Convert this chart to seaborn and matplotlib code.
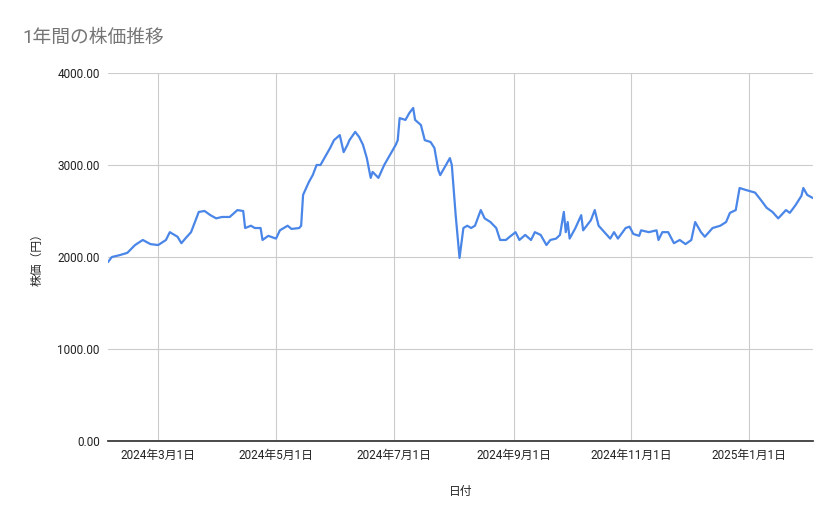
import matplotlib
matplotlib.use("Agg")
import matplotlib.pyplot as plt
import seaborn as sns
import pandas as pd

dates = ["2024-02-04","2024-02-06","2024-02-10","2024-02-14","2024-02-18","2024-02-22","2024-02-26","2024-03-01",
"2024-03-05","2024-03-07","2024-03-11","2024-03-13","2024-03-15","2024-03-18","2024-03-22","2024-03-25","2024-03-28",
"2024-03-31","2024-04-03","2024-04-07","2024-04-11","2024-04-14","2024-04-15","2024-04-18","2024-04-20","2024-04-23",
"2024-04-24","2024-04-27","2024-05-01","2024-05-03","2024-05-07","2024-05-09","2024-05-13","2024-05-14","2024-05-15",
"2024-05-18","2024-05-20","2024-05-22","2024-05-24","2024-05-27","2024-05-29","2024-05-31","2024-06-03","2024-06-05",
"2024-06-07","2024-06-08","2024-06-11","2024-06-13","2024-06-15","2024-06-17","2024-06-19","2024-06-20","2024-06-23",
"2024-06-26","2024-06-29","2024-07-02","2024-07-03","2024-07-04","2024-07-07","2024-07-09","2024-07-11","2024-07-12",
"2024-07-15","2024-07-17","2024-07-20","2024-07-22","2024-07-24","2024-07-25","2024-07-28","2024-07-30","2024-07-31",
"2024-08-02","2024-08-04","2024-08-06","2024-08-08","2024-08-10","2024-08-12","2024-08-15","2024-08-17","2024-08-20",
"2024-08-23","2024-08-25","2024-08-28","2024-08-30","2024-09-02","2024-09-04","2024-09-07","2024-09-10","2024-09-12",
"2024-09-15","2024-09-18","2024-09-20","2024-09-23","2024-09-25","2024-09-27","2024-09-28","2024-09-29","2024-09-30",
"2024-10-03","2024-10-06","2024-10-07","2024-10-11","2024-10-13","2024-10-15","2024-10-18","2024-10-21","2024-10-23",
"2024-10-25","2024-10-29","2024-10-31","2024-11-02","2024-11-05","2024-11-06","2024-11-10","2024-11-14","2024-11-15",
"2024-11-17","2024-11-20","2024-11-23","2024-11-26","2024-11-29","2024-12-02","2024-12-04","2024-12-07","2024-12-09",
"2024-12-13","2024-12-17","2024-12-20","2024-12-22","2024-12-25","2024-12-27","2024-12-30","2025-01-04","2025-01-07",
"2025-01-10","2025-01-13","2025-01-16","2025-01-20","2025-01-22","2025-01-25","2025-01-28","2025-01-29","2025-01-31",
"2025-02-03"]
prices = [1945,2000,2020,2045,2130,2185,2140,2130,
2185,2270,2220,2150,2200,2270,2490,2500,2455,
2420,2435,2435,2510,2500,2315,2340,2315,2315,
2185,2230,2200,2290,2340,2305,2315,2340,2675,
2815,2890,3000,3000,3110,3185,3270,3325,3140,
3220,3270,3360,3305,3220,3075,2860,2925,2860,
3000,3110,3220,3270,3510,3490,3565,3620,3490,
3435,3270,3250,3185,2945,2890,3000,3075,3000,
2455,1990,2315,2340,2315,2340,2510,2420,2380,
2315,2185,2185,2220,2270,2185,2240,2185,2270,
2240,2130,2185,2200,2240,2490,2270,2380,2200,
2315,2455,2290,2400,2510,2340,2270,2200,2270,
2200,2315,2330,2250,2230,2290,2270,2290,2185,
2270,2270,2150,2185,2140,2185,2380,2270,2220,
2315,2340,2380,2480,2510,2750,2730,2700,2620,
2535,2490,2420,2510,2480,2565,2665,2750,2675,
2640]
tick_dates = ["2024-03-01","2024-05-01","2024-07-01","2024-09-01","2024-11-01","2025-01-01"]
tick_labels = ["2024年3月1日","2024年5月1日","2024年7月1日","2024年9月1日","2024年11月1日","2025年1月1日"]
yticks = [0, 1000, 2000, 3000, 4000]

sns.set_theme(style="white")
plt.rcParams['font.family'] = ['Roboto', 'Noto Sans CJK JP', 'DejaVu Sans']

df = pd.DataFrame({"date": pd.to_datetime(dates), "price": prices})
fig = plt.figure(figsize=(8.39, 5.19), dpi=100)
ax = fig.add_axes([108/839, 78/519, 705/839, 368/519])
sns.lineplot(data=df, x="date", y="price", ax=ax, color="#4a86e8", linewidth=1.6)
ax.set_xlim(pd.Timestamp("2024-02-04"), pd.Timestamp("2025-02-03"))
ax.set_ylim(0, 4000)
ax.set_yticks(yticks)
ax.set_yticklabels([f"{v:.2f}" for v in yticks], fontsize=8.5, color="#222222")
ax.set_xticks(pd.to_datetime(tick_dates))
ax.set_xticklabels(tick_labels, fontsize=8.5, color="#222222")
ax.grid(True, color="#cccccc", linewidth=0.8)
ax.tick_params(length=0, pad=6)
for s in ["top", "right", "left"]:
    ax.spines[s].set_visible(False)
ax.spines["bottom"].set_color("#333333")
ax.set_xlabel("日付", fontsize=8.5, labelpad=16)
ax.set_ylabel("株価（円）", fontsize=8.5, labelpad=10)
fig.text(22/839, 1-38/519, "1年間の株価推移", fontsize=13.5, color="#757575", va="center")
fig.savefig("out.png", dpi=100, facecolor="white")
